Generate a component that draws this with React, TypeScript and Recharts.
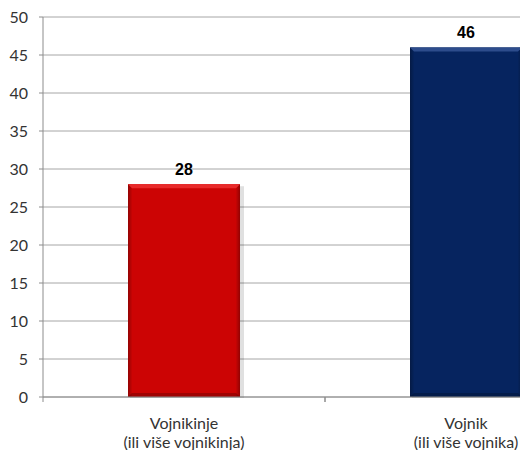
import { Bar, BarChart, CartesianGrid, LabelList, XAxis, YAxis } from 'recharts';

const categories = ['Vojnikinje|(ili više vojnikinja)', 'Vojnik|(ili više vojnika)'];
const counts = [28, 46];
const barColors = ['#cc0404', '#06245f'];
const bevelColors = ['#e82a2a', '#2d4c8c'];
const yTicks = [0, 5, 10, 15, 20, 25, 30, 35, 40, 45, 50];

const chartData = categories.map((name, i) => ({
    name,
    count: counts[i],
    fill: barColors[i],
    bevel: bevelColors[i],
}));

const BevelBar = (props: any) => {
    const { x, y, width, height, fill, payload, index } = props;
    if (height <= 0) return null;
    const b = 4;
    const id = `side-${index}`;
    return (
        <g>
            <defs>
                <linearGradient id={id} x1="0" y1="0" x2="1" y2="0">
                    <stop offset="0" stopColor="#000" stopOpacity={0.28} />
                    <stop offset="0.04" stopColor="#000" stopOpacity={0} />
                    <stop offset="0.96" stopColor="#000" stopOpacity={0} />
                    <stop offset="1" stopColor="#000" stopOpacity={0.28} />
                </linearGradient>
            </defs>
            <rect x={x + 2} y={y + 2} width={width + 2} height={height - 1} fill="#000" opacity={0.12} />
            <rect x={x} y={y} width={width} height={height} fill={fill} />
            <rect x={x} y={y} width={width} height={height} fill={`url(#${id})`} />
            <polygon
                points={`${x},${y} ${x + width},${y} ${x + width - b},${y + b} ${x + b},${y + b}`}
                fill={payload.bevel}
            />
            <polygon
                points={`${x},${y + height} ${x + width},${y + height} ${x + width - b},${y + height - b} ${x + b},${y + height - b}`}
                fill="#000"
                opacity={0.22}
            />
        </g>
    );
};

// two-line category label, plus tick marks on the band edges
const CategoryTick = (props: any) => {
    const { x, y, payload } = props;
    const [first, second] = String(payload.value).split('|');
    const half = payload.offset || 0;
    return (
        <g>
            {half > 0 && (
                <>
                    <line x1={x - half} x2={x - half} y1={y - 8} y2={y - 3} stroke="#8c8c8c" />
                    <line x1={x + half} x2={x + half} y1={y - 8} y2={y - 3} stroke="#8c8c8c" />
                </>
            )}
            <text x={x} y={y} textAnchor="middle" fill="#333" fontSize={16} fontFamily="Lato">
                <tspan x={x} dy={24}>{first}</tspan>
                <tspan x={x} dy={18.5}>{second}</tspan>
            </text>
        </g>
    );
};

const App = () => {
    return (
        <div style={{ position: 'absolute', left: 0, top: 0, width: 520, height: 450, overflow: 'hidden', background: '#fff' }}>
            <BarChart
                width={620}
                height={450}
                data={chartData}
                margin={{ top: 17, right: 13, bottom: 0, left: 0 }}
                barSize={112}
            >
                <CartesianGrid horizontal vertical={false} stroke="#a6a6a6" />
                <XAxis
                    dataKey="name"
                    tick={<CategoryTick />}
                    tickLine={false}
                    tickSize={8}
                    tickMargin={0}
                    axisLine={{ stroke: '#8c8c8c' }}
                    height={53}
                    interval={0}
                />
                <YAxis
                    domain={[0, 50]}
                    ticks={yTicks}
                    width={43}
                    axisLine={{ stroke: '#8c8c8c' }}
                    tickLine={{ stroke: '#8c8c8c' }}
                    tickSize={4}
                    tickMargin={11}
                    tick={{ fill: '#333', fontSize: 16, fontFamily: 'Lato' }}
                    interval={0}
                />
                <Bar dataKey="count" shape={<BevelBar />} isAnimationActive={false}>
                    <LabelList
                        dataKey="count"
                        position="top"
                        offset={9}
                        fill="#000"
                        fontSize={16}
                        fontWeight="bold"
                        fontFamily="Liberation Sans"
                    />
                </Bar>
            </BarChart>
        </div>
    );
};

export default App;
